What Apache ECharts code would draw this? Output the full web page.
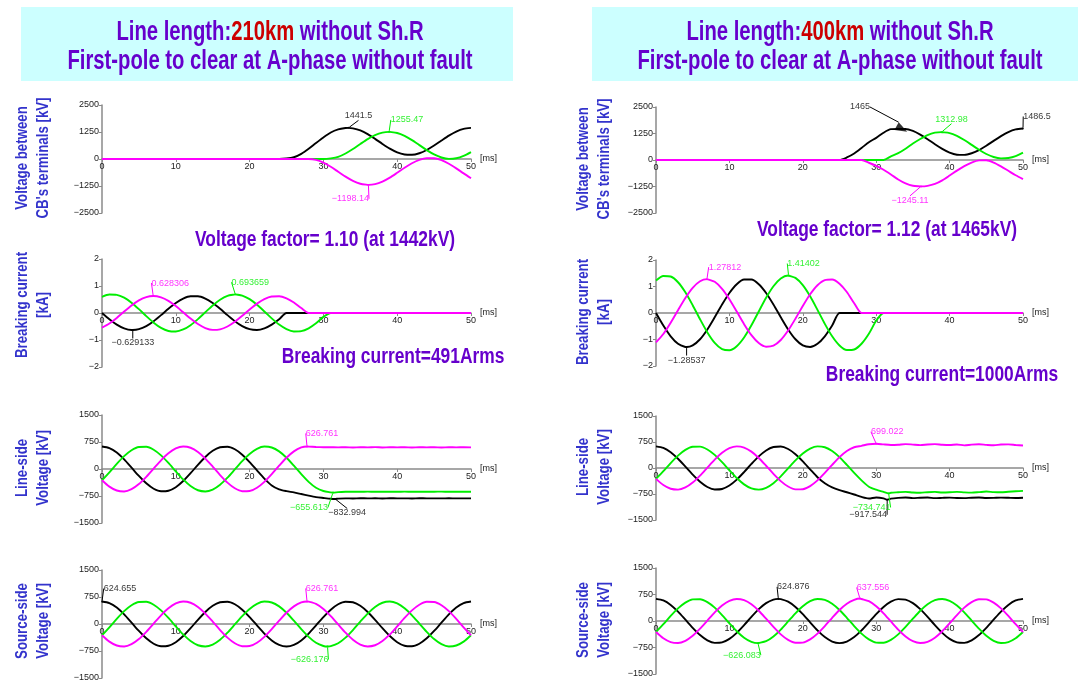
<!DOCTYPE html>
<html>
<head>
<meta charset="utf-8">
<script src="https://cdn.jsdelivr.net/npm/echarts@6/dist/echarts.min.js"></script>
<style>
  html, body { margin: 0; padding: 0; background: #ffffff; }
  #chart { width: 1080px; height: 684px; }
</style>
</head>
<body>
<div id="chart"></div>
<script>
// ---- time base and axis ticks ----
const timeMs = [0,1,2,3,4,5,6,7,8,9,10,11,12,13,14,15,16,17,18,19,20,21,22,23,24,25,
  26,27,28,29,30,31,32,33,34,35,36,37,38,39,40,41,42,43,44,45,46,47,48,49,50];
const timeTicks = [0, 10, 20, 30, 40, 50];
const cbTicks = [-2500, -1250, 0, 1250, 2500];
const currentTicks = [-2, -1, 0, 1, 2];
const voltTicks = [-1500, -750, 0, 750, 1500];

// ---- 210 km: voltage between CB terminals [kV] (A black, B green, C magenta) ----
const cb210A = [0,0,0,0,0,0,0,0,0,0, 0,0,0,0,0,0,0,0,0,0, 0,0,0,0,0,
  20,80,239,474,741,998,1226,1368,1435,1420,1321,1150,932,698,480,309,210,195,267,417,622,854,1081,1271,1396,1440];
const cb210B = [0,0,0,0,0,0,0,0,0,0, 0,0,0,0,0,0,0,0,0,0, 0,0,0,0,0,0,0,0,0,0, 0,
  30,96,253,463,696,921,1104,1221,1254,1202,1068,873,644,413,213,71,8,33,141,318];
const cb210C = [0,0,0,0,0,0,0,0,0,0, 0,0,0,0,0,0,0,0,0,0, 0,0,0,0,0,0,0,0,0,
  -40,-167,-360,-588,-817,-1012,-1146,-1197,-1165,-1048,-865,-640,-407,-197,-40,41,36,-54,-218,-432,-666,-888];
// [phase, time ms, value]
const cb210Marks = [[0, 33.4, 1441.5], [1, 38.9, 1255.47], [2, 36.1, -1198.14]];

// ---- 210 km: breaking current [kA] ----
const bc210A = [0,-0.232,-0.431,-0.570,-0.629,-0.599,-0.485,-0.304,-0.079,0.157,0.370,0.532,0.619,0.619,0.532,
  0.370,0.157,-0.079,-0.304,-0.485,-0.599,-0.629,-0.570,-0.431,-0.232,
  0,0,0,0,0,0,0,0,0,0, 0,0,0,0,0,0,0,0,0,0, 0,0,0,0,0,0];
const bc210B = [0.598,0.683,0.672,0.567,0.382,0.143,-0.115,-0.357,-0.550,-0.665,-0.686,-0.611,-0.451,-0.227,0.029,
  0.281,0.493,0.636,0.690,0.647,0.513,0.307,0.058,-0.199,-0.429,-0.598,-0.683,-0.672,-0.567,-0.382,-0.143,
  0,0,0,0,0,0,0,0,0,0, 0,0,0,0,0,0,0,0,0,0];
const bc210C = [-0.544,-0.390,-0.182,0.053,0.279,0.467,0.589,0.628,0.579,0.449,0.255,0.026,-0.207,-0.410,-0.557,
  -0.625,-0.605,-0.500,-0.325,-0.105,0.131,0.348,0.516,0.611,0.621,0.544,0.390,0.182,
  0,0,0,0,0,0,0,0,0,0, 0,0,0,0,0,0,0,0,0,0, 0,0,0];
const bc210Marks = [[0, 4.17, -0.629133], [1, 18.06, 0.693659], [2, 6.94, 0.628306]];

// ---- 210 km: line-side voltage [kV] ----
const ls210A = [625,581,456,266,39,-193,-398,-548,-620,-605,-506,-335,-117,117,335,506,605,620,548,398,193,-39,-266,
  -456,-565,-615,-650,-695,-740,-780,-805,-828,-822,-815,-818,-812,-816,-814,-818,-813,-816,-815,-818,-813,-816,-815,-817,-814,-816,-815,-816];
const ls210B = [-313,-91,143,357,521,611,616,535,378,168,-65,-290,-473,-590,-624,-571,-437,-242,-13,218,418,560,623,598,490,313,91,-143,-357,-521,
  -611,-648,-642,-633,-630,-632,-629,-633,-630,-631,-634,-629,-632,-630,-633,-631,-629,-632,-630,-633,-631];
const ls210C = [-313,-490,-598,-623,-560,-418,-218,13,242,437,571,624,590,473,290,65,-168,-378,-535,-616,-611,-521,-357,-143,91,313,490,598,
  622,612,606,604,600,606,598,605,601,607,598,604,602,606,597,605,601,606,598,604,602,606,600];
const ls210Marks = [[0, 31.6, -832.994], [1, 31.3, -655.613], [2, 27.78, 626.761]];

// ---- source-side voltage [kV] ----
const srcA = [625,581,456,266,39,-193,-398,-548,-620,-605,-506,-335,-117,117,335,506,605,620,548,398,193,-39,-266,-456,-581,
  -625,-581,-456,-266,-39,193,398,548,620,605,506,335,117,-117,-335,-506,-605,-620,-548,-398,-193,39,266,456,581,625];
const srcB = [-313,-91,143,357,521,611,616,535,378,168,-65,-290,-473,-590,-624,-571,-437,-242,-13,218,418,560,623,598,490,
  313,91,-143,-357,-521,-611,-616,-535,-378,-168,65,290,473,590,624,571,437,242,13,-218,-418,-560,-623,-598,-490,-313];
const srcC = [-313,-490,-598,-623,-560,-418,-218,13,242,437,571,624,590,473,290,65,-168,-378,-535,-616,-611,-521,-357,-143,91,
  313,490,598,623,560,418,218,-13,-242,-437,-571,-624,-590,-473,-290,-65,168,378,535,616,611,521,357,143,-91,-313];
const ss210Marks = [[0, 0, 624.655], [1, 30.56, -626.176], [2, 27.78, 626.761]];
const ss400Marks = [[0, 16.67, 624.876], [1, 13.89, -626.083], [2, 27.78, 637.556]];

// ---- 400 km: voltage between CB terminals [kV] ----
const cb400A = [0,0,0,0,0,0,0,0,0,0, 0,0,0,0,0,0,0,0,0,0, 0,0,0,0,0,0,
  119,304,564,841,1043,1288,1455,1465,1465,1370,1195,982,743,525,349,250,240,318,463,672,904,1126,1316,1441,1486.5];
const cb400B = [0,0,0,0,0,0,0,0,0,0, 0,0,0,0,0,0,0,0,0,0, 0,0,0,0,0,0,0,0,0,0, 0,0,
  170,322,532,775,990,1178,1290,1310,1271,1137,942,713,482,282,140,77,92,180,347];
const cb400C = [0,0,0,0,0,0,0,0,0,0, 0,0,0,0,0,0,0,0,0,0, 0,0,0,0,0,0,0,0,0,
  -130,-277,-462,-683,-917,-1102,-1215,-1243,-1220,-1130,-960,-735,-500,-292,-125,-20,-15,-120,-300,-510,-720,-900];
const cb400Marks = [[0, 33.5, 1465], [0, 50, 1486.5], [1, 38.9, 1312.98], [2, 36.1, -1245.11]];

// ---- 400 km: breaking current [kA] ----
const bc400A = [0,-0.473,-0.880,-1.163,-1.282,-1.222,-0.990,-0.619,-0.161,0.320,0.755,1.085,1.262,1.262,1.085,
  0.755,0.320,-0.161,-0.619,-0.990,-1.222,-1.282,-1.163,-0.880,-0.473,
  0,0,0,0,0,0,0,0,0,0, 0,0,0,0,0,0,0,0,0,0, 0,0,0,0,0,0];
const bc400B = [1.225,1.399,1.377,1.161,0.783,0.294,-0.236,-0.732,-1.126,-1.362,-1.406,-1.253,-0.924,-0.465,0.059,
  0.575,1.010,1.304,1.414,1.325,1.051,0.629,0.118,-0.409,-0.878,-1.225,-1.399,-1.377,-1.161,-0.783,-0.294,
  0,0,0,0,0,0,0,0,0,0, 0,0,0,0,0,0,0,0,0,0];
const bc400C = [-1.107,-0.794,-0.369,0.107,0.568,0.950,1.198,1.278,1.178,0.913,0.520,0.054,-0.420,-0.835,-1.133,
  -1.271,-1.231,-1.018,-0.662,-0.213,0.266,0.707,1.049,1.244,1.264,1.107,0.794,0.369,
  0,0,0,0,0,0,0,0,0,0, 0,0,0,0,0,0,0,0,0,0, 0,0,0];
const bc400Marks = [[0, 4.17, -1.28537], [1, 18.06, 1.41402], [2, 6.94, 1.27812]];

// ---- 400 km: line-side voltage [kV] ----
const ls400A = [625,581,456,266,39,-193,-398,-548,-620,-605,-506,-335,-117,117,335,506,605,620,548,398,193,-39,-266,
  -440,-560,-640,-700,-765,-835,-880,-850,-875,-885,-862,-850,-868,-858,-852,-870,-862,-855,-866,-870,-857,-852,-866,-862,-855,-860,-866,-860];
const ls400B = [-313,-91,143,357,521,611,616,535,378,168,-65,-290,-473,-590,-624,-571,-437,-242,-13,218,418,560,623,598,490,313,91,-143,-357,
  -540,-625,-690,-712,-700,-688,-705,-712,-698,-690,-705,-700,-688,-702,-710,-696,-680,-695,-700,-685,-672,-660];
const ls400C = [-313,-490,-598,-623,-560,-418,-218,13,242,437,571,624,590,473,290,65,-168,-378,-535,-616,-611,-521,-357,-143,91,313,490,598,
  640,685,699.022,680,665,672,690,675,660,678,688,670,662,680,652,675,685,668,655,678,682,665,650];
const ls400Marks = [[0, 31.5, -917.544], [1, 31.7, -734.741], [2, 30, 699.022]];

// ---- styling ----
const FONT = "'Liberation Sans', Arial, sans-serif";
const PHASE_COLORS = ['#000000', '#00ee00', '#ff00ff'];
const AXIS_COLOR = '#8a8a8a';
const TITLE_PURPLE = '#6600cc';
const LABEL_BLUE = '#3333cc';

// panel placement [left, top, width, height] and value-label offsets [dx, dy, arrowRotate?]
const panels = [
  { box: [102, 105, 369, 108], ticks: cbTicks, phases: [cb210A, cb210B, cb210C], marks: cb210Marks,
    offsets: [[10, -12], [18, -12], [-18, 14]] },
  { box: [102, 259, 369, 108], ticks: currentTicks, phases: [bc210A, bc210B, bc210C], marks: bc210Marks,
    offsets: [[0, 13], [15, -12], [17, -13]] },
  { box: [102, 415, 369, 108], ticks: voltTicks, phases: [ls210A, ls210B, ls210C], marks: ls210Marks,
    offsets: [[12, 14], [-24, 15], [15, -13]] },
  { box: [102, 570, 369, 108], ticks: voltTicks, phases: [srcA, srcB, srcC], marks: ss210Marks,
    offsets: [[18, -13], [-18, 13], [15, -13]] },
  { box: [656, 107, 367, 106], ticks: cbTicks, phases: [cb400A, cb400B, cb400C], marks: cb400Marks,
    offsets: [[-42, -22, -118], [14, -12], [10, -13], [-11, 14]] },
  { box: [656, 260, 367, 106], ticks: currentTicks, phases: [bc400A, bc400B, bc400C], marks: bc400Marks,
    offsets: [[0, 13], [15, -12], [18, -12]] },
  { box: [656, 416, 367, 104], ticks: voltTicks, phases: [ls400A, ls400B, ls400C], marks: ls400Marks,
    offsets: [[-19, 15], [-17, 14], [11, -12]] },
  { box: [656, 568, 367, 106], ticks: voltTicks, phases: [srcA, srcB, srcC], marks: ss400Marks,
    offsets: [[15, -12], [-16, 12], [13, -11]] }
];

function fmt(v) {
  return v < 0 ? '\u2212' + String(-v) : String(v);
}

// pair samples with time and splice in the annotated point of that phase
function seriesData(vals, marks, phase) {
  const pts = timeMs.map((t, i) => [t, vals[i]]);
  marks.filter(m => m[0] === phase).forEach(m => {
    const t = m[1], v = m[2];
    const j = pts.findIndex(p => p[0] >= t);
    if (pts[j][0] === t) pts[j] = [t, v];
    else pts.splice(j, 0, [t, v]);
  });
  return pts;
}

const grids = [], xAxes = [], yAxes = [], series = [];
const tickText = { fontSize: 9, color: '#222222', fontFamily: FONT };

panels.forEach((p, i) => {
  grids.push({ left: p.box[0], top: p.box[1], width: p.box[2], height: p.box[3], outerBoundsMode: 'none' });
  // the time axis sits on the zero line, which is the vertical middle of each symmetric panel
  xAxes.push({
    gridIndex: i, type: 'value', position: 'bottom', offset: -p.box[3] / 2,
    min: timeTicks[0], max: timeTicks[timeTicks.length - 1], interval: timeTicks[1] - timeTicks[0],
    axisLine: { onZero: false, lineStyle: { color: AXIS_COLOR, width: 1.5 } },
    axisTick: { show: true, length: 3, lineStyle: { color: AXIS_COLOR } },
    splitLine: { show: false },
    axisLabel: Object.assign({ margin: 3 }, tickText),
    name: '[ms]', nameLocation: 'end', nameGap: 8,
    nameTextStyle: Object.assign({}, tickText)
  });
  yAxes.push({
    gridIndex: i, type: 'value',
    min: p.ticks[0], max: p.ticks[p.ticks.length - 1], interval: p.ticks[1] - p.ticks[0],
    axisLine: { show: true, onZero: false, lineStyle: { color: AXIS_COLOR, width: 1.5 } },
    axisTick: { show: true, length: 3, lineStyle: { color: AXIS_COLOR } },
    splitLine: { show: false },
    axisLabel: Object.assign({ margin: 3, formatter: fmt }, tickText)
  });
  p.phases.forEach((vals, k) => {
    series.push({
      type: 'line', xAxisIndex: i, yAxisIndex: i,
      data: seriesData(vals, p.marks, k),
      symbol: 'none', showSymbol: false, smooth: 0.25, silent: true, z: 2 + k,
      lineStyle: { color: PHASE_COLORS[k], width: 1.9 }
    });
  });
  p.marks.forEach((m, j) => {
    const col = PHASE_COLORS[m[0]];
    const off = p.offsets[j];
    const big = off.length > 2;
    series.push({
      type: 'scatter', xAxisIndex: i, yAxisIndex: i, silent: true, z: 10,
      data: [[m[1], m[2]]],
      symbol: big ? 'triangle' : 'circle',
      symbolSize: big ? [9, 12] : 2,
      symbolRotate: big ? off[2] : 0,
      itemStyle: { color: col },
      label: {
        show: true, position: 'inside', formatter: fmt(m[2]),
        color: col, fontSize: 9, fontFamily: FONT
      },
      labelLayout: { dx: off[0], dy: off[1] },
      labelLine: { show: true, lineStyle: { color: col, width: 1 } }
    });
  });
});

// axis captions, one per panel row: [x centre, y centre, text]
const captions = [
  [32.5, 158, 'Voltage between\nCB\'s terminals [kV]'],
  [32.5, 305, 'Breaking current\n[kA]'],
  [32.5, 468, 'Line-side\nVoltage [kV]'],
  [32.5, 621, 'Source-side\nVoltage [kV]'],
  [593.5, 159, 'Voltage between\nCB\'s terminals [kV]'],
  [593.5, 312, 'Breaking current\n[kA]'],
  [593.5, 467, 'Line-side\nVoltage [kV]'],
  [593.5, 620, 'Source-side\nVoltage [kV]']
];

const notes = [
  [325, 240, 'Voltage factor= 1.10 (at 1442kV)'],
  [393, 357, 'Breaking current=491Arms'],
  [887, 230, 'Voltage factor= 1.12 (at 1465kV)'],
  [942, 375, 'Breaking current=1000Arms']
];

const graphic = [];
[[21, 7, 492, 74, 270, '210km'], [592, 7, 486, 74, 840, '400km']].forEach(b => {
  graphic.push({ type: 'rect', shape: { x: b[0], y: b[1], width: b[2], height: b[3] },
    style: { fill: '#ccffff' }, z: 0 });
  graphic.push({ type: 'text', x: b[4], y: 33, scaleX: 0.75, z: 5,
    style: {
      text: '{p|Line length:}{r|' + b[5] + '}{p| without Sh.R}',
      align: 'center', verticalAlign: 'middle',
      rich: {
        p: { fill: TITLE_PURPLE, fontSize: 27, fontWeight: 'bold', fontFamily: FONT },
        r: { fill: '#cc0000', fontSize: 27, fontWeight: 'bold', fontFamily: FONT }
      }
    } });
  graphic.push({ type: 'text', x: b[4], y: 62, scaleX: 0.75, z: 5,
    style: { text: 'First-pole to clear at A-phase without fault', align: 'center', verticalAlign: 'middle',
      fill: TITLE_PURPLE, fontSize: 27, fontWeight: 'bold', fontFamily: FONT } });
});
captions.forEach(c => {
  graphic.push({ type: 'text', x: c[0], y: c[1], rotation: Math.PI / 2, scaleX: 0.78, z: 5,
    style: { text: c[2], align: 'center', verticalAlign: 'middle', lineHeight: 21,
      fill: LABEL_BLUE, fontSize: 17, fontWeight: 'bold', fontFamily: FONT } });
});
notes.forEach(n => {
  graphic.push({ type: 'text', x: n[0], y: n[1], scaleX: 0.79, z: 5,
    style: { text: n[2], align: 'center', verticalAlign: 'middle',
      fill: TITLE_PURPLE, fontSize: 22, fontWeight: 'bold', fontFamily: FONT } });
});

const chart = echarts.init(document.getElementById('chart'), null, { renderer: 'canvas' });
chart.setOption({
  animation: false,
  backgroundColor: '#ffffff',
  grid: grids,
  xAxis: xAxes,
  yAxis: yAxes,
  series: series,
  graphic: graphic
});
</script>
</body>
</html>
